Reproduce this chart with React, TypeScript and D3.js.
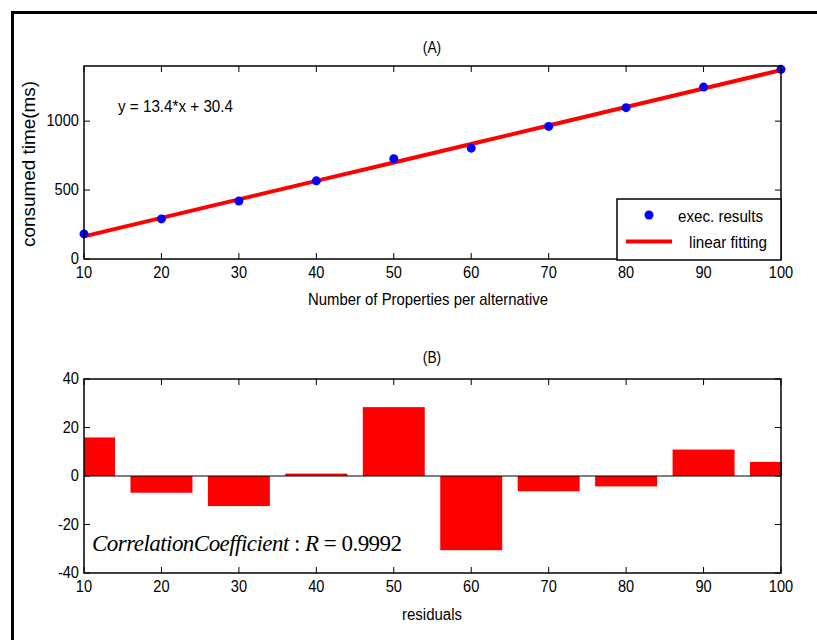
import React, { useRef, useEffect } from "react";
import * as d3 from "d3";

const properties = [10, 20, 30, 40, 50, 60, 70, 80, 90, 100];
const consumedTime = [182, 291, 420, 567, 728, 804, 962, 1098, 1247, 1376];
const fitSlope = 13.4;
const fitIntercept = 30.4;
const residuals = [15.9, -6.9, -12.4, 1.0, 28.4, -30.6, -6.3, -4.3, 10.9, 5.8];
const xTicks = [10, 20, 30, 40, 50, 60, 70, 80, 90, 100];
const timeTicks = [0, 500, 1000];
const residualTicks = [-40, -20, 0, 20, 40];
const legendLabels = ["exec. results", "linear fitting"];

const W = 817;
const H = 640;
const sans = "'Liberation Sans', Arial, Helvetica, sans-serif";

// condensed helvetica look: squeeze the glyphs horizontally
const label = (g, x, y, text, size = 16, anchor = "start", width = null) => {
  const t = g
    .append("text")
    .attr("transform", `translate(${x},${y}) scale(0.86,1)`)
    .attr("text-anchor", anchor)
    .attr("font-family", sans)
    .attr("font-size", size)
    .text(text);
  if (width) {
    t.attr("transform", `translate(${x},${y})`)
      .attr("textLength", width)
      .attr("lengthAdjust", "spacingAndGlyphs");
  }
  return t;
};

const App = () => {
  const ref = useRef<SVGSVGElement>(null);

  useEffect(() => {
    const svg = d3.select(ref.current);
    svg.selectAll("*").remove();

    // outer frame
    svg.append("rect").attr("width", W).attr("height", H).attr("fill", "white");
    svg
      .append("path")
      .attr("d", `M12.5,${H} V12.5 H${W}`)
      .attr("fill", "none")
      .attr("stroke", "black")
      .attr("stroke-width", 3);

    const left = 84;
    const right = 781;
    const x = d3.scaleLinear().domain([10, 100]).range([left, right]);

    // MATLAB style box with inward ticks on all four sides
    const drawBox = (g, y, yTicks, top, bottom) => {
      g.append("rect")
        .attr("x", left)
        .attr("y", top)
        .attr("width", right - left)
        .attr("height", bottom - top)
        .attr("fill", "none")
        .attr("stroke", "black")
        .attr("stroke-width", 1.5);
      xTicks.forEach((t) => {
        g.append("line").attr("x1", x(t)).attr("x2", x(t)).attr("y1", bottom).attr("y2", bottom - 6).attr("stroke", "black");
        g.append("line").attr("x1", x(t)).attr("x2", x(t)).attr("y1", top).attr("y2", top + 6).attr("stroke", "black");
        label(g, x(t), bottom + 19, t, 17, "middle");
      });
      yTicks.forEach((t) => {
        g.append("line").attr("x1", left).attr("x2", left + 6).attr("y1", y(t)).attr("y2", y(t)).attr("stroke", "black");
        g.append("line").attr("x1", right).attr("x2", right - 6).attr("y1", y(t)).attr("y2", y(t)).attr("stroke", "black");
        label(g, left - 5, y(t) + 5, t, 17, "end");
      });
    };

    // ---- (A) ----
    const topA = 66;
    const bottomA = 259;
    const yA = d3.scaleLinear().domain([0, 1400]).range([bottomA, topA]);
    const gA = svg.append("g");

    const fit = d3
      .line<number>()
      .x((d) => x(d))
      .y((d) => yA(fitSlope * d + fitIntercept));
    gA.append("path")
      .attr("d", fit(properties))
      .attr("fill", "none")
      .attr("stroke", "#ff0000")
      .attr("stroke-width", 4);

    gA.selectAll("circle.pt")
      .data(properties)
      .enter()
      .append("circle")
      .attr("class", "pt")
      .attr("cx", (d) => x(d))
      .attr("cy", (d, i) => yA(consumedTime[i]))
      .attr("r", 4.5)
      .attr("fill", "#0000ff");

    drawBox(gA, yA, timeTicks, topA, bottomA);

    label(gA, 118, 112, `y = ${fitSlope}*x + ${fitIntercept}`, 17, "start", 115);

    // legend
    const lg = gA.append("g");
    lg.append("rect")
      .attr("x", 617)
      .attr("y", 199)
      .attr("width", right - 617)
      .attr("height", 61)
      .attr("fill", "white")
      .attr("stroke", "black")
      .attr("stroke-width", 1.5);
    lg.append("circle").attr("cx", 649).attr("cy", 215).attr("r", 4.5).attr("fill", "#0000ff");
    lg.append("line").attr("x1", 626).attr("x2", 672).attr("y1", 241.5).attr("y2", 241.5).attr("stroke", "#ff0000").attr("stroke-width", 4);
    label(lg, 678, 222, legendLabels[0], 16, "start", 85);
    label(lg, 689, 248, legendLabels[1], 16, "start", 78);

    label(svg, 432, 53, "(A)", 16, "middle");
    label(svg, 428, 305, "Number of Properties per alternative", 17, "middle", 240);
    svg.append("text")
      .attr("transform", "translate(35,164) rotate(-90)")
      .attr("text-anchor", "middle")
      .attr("font-family", sans)
      .attr("font-size", 18)
      .attr("textLength", 166)
      .attr("lengthAdjust", "spacingAndGlyphs")
      .text("consumed time(ms)");

    // ---- (B) ----
    const topB = 379;
    const bottomB = 573;
    const yB = d3.scaleLinear().domain([-40, 40]).range([bottomB, topB]);
    const gB = svg.append("g");

    svg.append("defs")
      .append("clipPath")
      .attr("id", "clipB")
      .append("rect")
      .attr("x", left)
      .attr("y", topB)
      .attr("width", right - left + 1)
      .attr("height", bottomB - topB);

    const barW = x(18) - x(10);
    gB.append("g")
      .attr("clip-path", "url(#clipB)")
      .selectAll("rect")
      .data(residuals)
      .enter()
      .append("rect")
      .attr("x", (d, i) => x(properties[i]) - barW / 2)
      .attr("y", (d) => yB(Math.max(0, d)))
      .attr("width", barW)
      .attr("height", (d) => Math.abs(yB(d) - yB(0)))
      .attr("fill", "#ff0000");

    gB.append("line")
      .attr("x1", left)
      .attr("x2", right)
      .attr("y1", yB(0))
      .attr("y2", yB(0))
      .attr("stroke", "black");

    drawBox(gB, yB, residualTicks, topB, bottomB);

    const corr = gB.append("text")
      .attr("x", 92)
      .attr("y", 551)
      .attr("font-family", "'Liberation Serif', 'DejaVu Serif', serif")
      .attr("font-size", 23)
      .attr("textLength", 310)
      .attr("lengthAdjust", "spacing");
    corr.append("tspan").attr("font-style", "italic").text("CorrelationCoefficient");
    corr.append("tspan").text(" : ");
    corr.append("tspan").attr("font-style", "italic").text("R");
    corr.append("tspan").text(" = 0.9992");

    label(svg, 432, 363, "(B)", 16, "middle");
    label(svg, 432, 620, "residuals", 16, "middle", 60);
  }, []);

  return (
    <svg
      ref={ref}
      width={W}
      height={H}
      style={{ position: "absolute", left: 0, top: 0, display: "block" }}
    />
  );
};

export default App;
